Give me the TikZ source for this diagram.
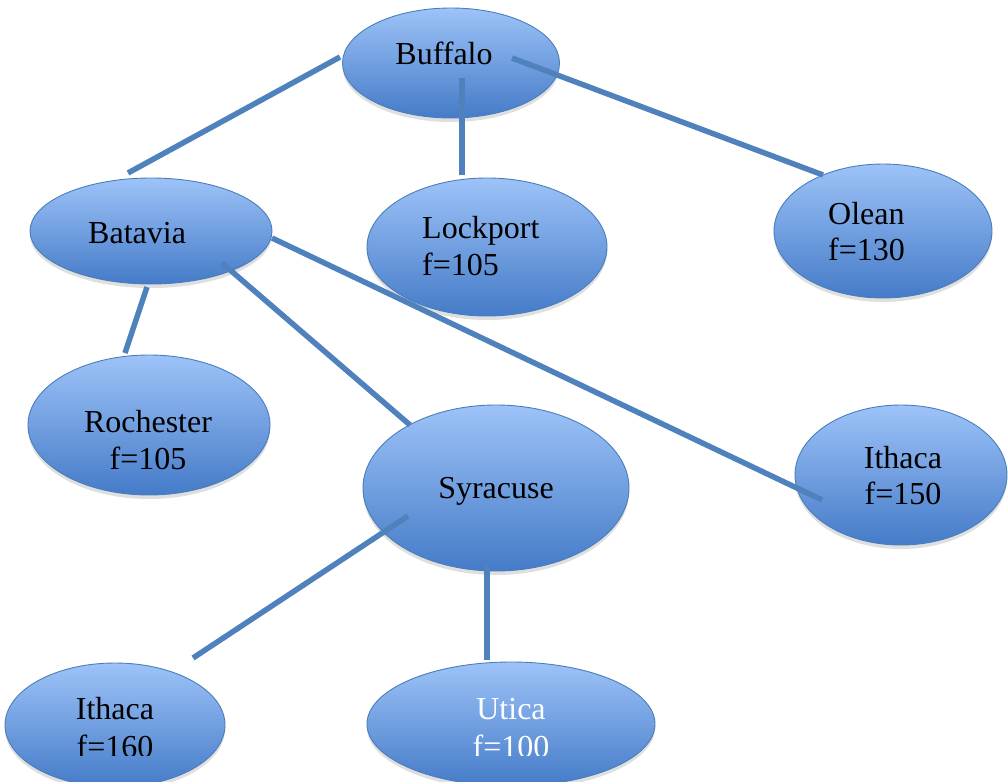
\documentclass[tikz,border=0pt]{standalone}
\usepackage{fontspec}
\setmainfont{Liberation Serif}
\usetikzlibrary{shapes.geometric,shadows}

\definecolor{topblue}{HTML}{9DC3F8}
\definecolor{botblue}{HTML}{457BC8}
\definecolor{edgeblue}{HTML}{4A7EBB}
\definecolor{linkblue}{HTML}{4F81BD}

\tikzset{
  city/.style={ellipse, draw=edgeblue, line width=0.9pt,
    top color=topblue, bottom color=botblue, inner sep=0pt,
    drop shadow={opacity=0.25, shadow xshift=0pt, shadow yshift=-4pt}},
  link/.style={draw=linkblue, line width=5.5pt},
  lbl/.style={font=\fontsize{32}{37}\selectfont, inner sep=0pt},
}

\begin{document}
\begin{tikzpicture}[x=1pt, y=-1pt]
\useasboundingbox (0,0) rectangle (1008,781);

% city ellipses
\node[city, minimum width=217pt, minimum height=110pt] (buf)   at (451,63)  {};
\node[city, minimum width=242pt, minimum height=106pt] (bat)   at (151,231) {};
\node[city, minimum width=240pt, minimum height=138pt] (lock)  at (487,247) {};
\node[city, minimum width=218pt, minimum height=134pt] (olean) at (883,231) {};
\node[city, minimum width=242pt, minimum height=140pt] (roch)  at (149,425) {};
\node[city, minimum width=266pt, minimum height=166pt] (syr)   at (496,488) {};
\node[city, minimum width=212pt, minimum height=140pt] (ithr)  at (901,475) {};
\node[city, minimum width=220pt, minimum height=124pt] (ithl)  at (115,725) {};
\node[city, minimum width=288pt, minimum height=124pt] (uti)   at (511,724) {};

% labels
\node[lbl, anchor=base] (buf-t) at (444,65) {Buffalo};
\node[lbl, anchor=base west] (bat-t) at (88,243) {Batavia};
\node[lbl, anchor=base west] (lock-t1) at (422,238) {Lockport};
\node[lbl, anchor=base west] (lock-t2) at (422,275) {f=105};
\node[lbl, anchor=base west] (olean-t1) at (828,224) {Olean};
\node[lbl, anchor=base west] (olean-t2) at (828,260) {f=130};
\node[lbl, anchor=base] (roch-t1) at (148,432) {Rochester};
\node[lbl, anchor=base] (roch-t2) at (148,469) {f=105};
\node[lbl, anchor=base] (syr-t) at (496,498) {Syracuse};
\node[lbl, anchor=base] (ithr-t1) at (903,468) {Ithaca};
\node[lbl, anchor=base] (ithr-t2) at (903,504) {f=150};
\begin{scope}
  \clip (0,0) rectangle (1008,755);
  \node[lbl, anchor=base] (ithl-t1) at (115,719) {Ithaca};
  \node[lbl, anchor=base] (ithl-t2) at (115,757) {f=160};
  \node[lbl, anchor=base, text=white] (uti-t1) at (511,719) {Utica};
  \node[lbl, anchor=base, text=white] (uti-t2) at (511,757) {f=100};
\end{scope}

% connector end points
\coordinate (buf-bat-a) at (340,57);   \coordinate (buf-bat-b) at (128,173);
\coordinate (buf-lock-a) at (462,78);  \coordinate (buf-lock-b) at (462,175);
\coordinate (buf-ole-a) at (512,58);   \coordinate (buf-ole-b) at (823,175);
\coordinate (bat-roch-a) at (147,287); \coordinate (bat-roch-b) at (125,353);
\coordinate (bat-syr-a) at (222,263);  \coordinate (bat-syr-b) at (410,425);
\coordinate (bat-ith-a) at (272,238);  \coordinate (bat-ith-b) at (822,500);
\coordinate (syr-ith-a) at (408,516);  \coordinate (syr-ith-b) at (193,658);
\coordinate (syr-uti-a) at (487,565);  \coordinate (syr-uti-b) at (487,660);

% connectors
\draw[link] (buf-bat-a) -- (buf-bat-b);
\draw[link] (buf-lock-a) -- (buf-lock-b);
\draw[link] (buf-ole-a) -- (buf-ole-b);
\draw[link] (bat-roch-a) -- (bat-roch-b);
\draw[link] (bat-syr-a) -- (bat-syr-b);
\draw[link] (bat-ith-a) -- (bat-ith-b);
\draw[link] (syr-ith-a) -- (syr-ith-b);
\draw[link] (syr-uti-a) -- (syr-uti-b);
\end{tikzpicture}
\end{document}
